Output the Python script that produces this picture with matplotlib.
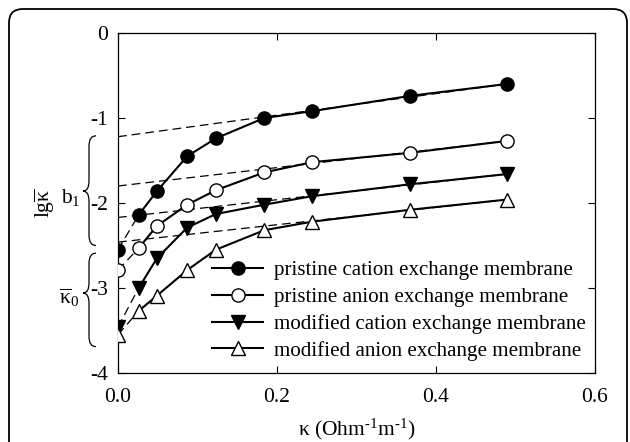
import matplotlib
matplotlib.use("Agg")
import matplotlib.pyplot as plt
from matplotlib.path import Path
from matplotlib.patches import PathPatch, FancyBboxPatch

plt.rcParams['font.family'] = ['Liberation Serif', 'DejaVu Serif']
plt.rcParams['mathtext.fontset'] = 'custom'
plt.rcParams['mathtext.rm'] = 'Liberation Serif'
plt.rcParams['mathtext.it'] = 'Liberation Serif:italic'
plt.rcParams['axes.unicode_minus'] = False

# conductivity of solution, Ohm^-1 m^-1
kappa = [0.0, 0.026, 0.049, 0.087, 0.123, 0.184, 0.244, 0.367, 0.489]

pcm = [-2.55, -2.14, -1.86, -1.45, -1.24, -1.00, -0.92, -0.74, -0.60]
pam = [-2.79, -2.53, -2.27, -2.02, -1.85, -1.64, -1.52, -1.41, -1.27]
mcm = [-3.46, -3.00, -2.65, -2.29, -2.13, -2.02, -1.92, -1.78, -1.66]
mam = [-3.55, -3.27, -3.09, -2.79, -2.55, -2.32, -2.22, -2.08, -1.96]

# intercepts of the linear extrapolation (dashed)
intercepts = [-1.22, -1.80, -2.17, -2.46]

labels = ["pristine cation exchange membrane",
          "pristine anion exchange membrane",
          "modified cation exchange membrane",
          "modified anion exchange membrane"]
series = [pcm, pam, mcm, mam]
markers = [("o", "black"), ("o", "white"), ("v", "black"), ("^", "white")]

FS = 15.5

fig = plt.figure(figsize=(6.3, 4.42), dpi=100)
ax = fig.add_axes([118/630, 1-373/442, 477/630, 340/442])

dash = (0, (7, 4))
for ys, b in zip(series, intercepts):
    # extrapolated straight line
    ax.plot([kappa[0], kappa[-1]], [b, ys[-1]], color="black", lw=0.9, ls=dash, zorder=2)
    # first segment dashed
    ax.plot(kappa[:2], ys[:2], color="black", lw=0.9, ls=dash, zorder=2)

for ys, (m, fc), lab in zip(series, markers, labels):
    ax.plot(kappa[1:], ys[1:], color="black", lw=1.5, zorder=3)
    ax.plot(kappa, ys, ls="none", marker=m, ms=9.5, mfc=fc, mec="black", mew=1.0, zorder=4)
    ax.plot([], [], color="black", lw=1.5, marker=m, ms=9.5, mfc=fc, mec="black", mew=1.0, label=lab)

ax.set_xlim(0, 0.6)
ax.set_ylim(-4, 0)
ax.set_xticks([0.0, 0.2, 0.4, 0.6])
ax.set_xticklabels(["0.0", "0.2", "0.4", "0.6"])
ax.set_yticks([0, -1, -2, -3, -4])
ax.set_yticklabels(["0", "-1", "-2", "-3", "-4"])
ax.tick_params(direction="in", top=True, right=True, length=5, width=0.8, labelsize=FS)
ax.tick_params(axis="x", pad=11)
ax.tick_params(axis="y", pad=7)
for s in ax.spines.values():
    s.set_linewidth(0.9)

ax.set_xlabel("κ (Ohm$^{\\mathregular{\u20101}}$m$^{\\mathregular{\u20101}}$)", fontsize=FS, labelpad=7)

ax.legend(loc="upper left", bbox_to_anchor=(0.198, 0.33), frameon=False, fontsize=15.1,
          handlelength=2.4, handletextpad=0.55, labelspacing=0.33, borderpad=0, borderaxespad=0)

# braces on the left of the y-axis
tr = ax.get_yaxis_transform()


def px2ax(px):
    return (px - 118) / 477


def brace(y_top, y_bot, y_tip):
    xe, xs, xt = px2ax(96), px2ax(89), px2ax(83)
    r = 0.12
    verts = [(xe, y_top), (xs, y_top), (xs, y_top - r),
             (xs, y_tip + r),
             (xs, y_tip), (xt, y_tip),
             (xs, y_tip), (xs, y_tip - r),
             (xs, y_bot + r),
             (xs, y_bot), (xe, y_bot)]
    codes = [Path.MOVETO, Path.CURVE3, Path.CURVE3,
             Path.LINETO,
             Path.CURVE3, Path.CURVE3,
             Path.CURVE3, Path.CURVE3,
             Path.LINETO,
             Path.CURVE3, Path.CURVE3]
    ax.add_patch(PathPatch(Path(verts, codes), transform=tr, fill=False,
                           lw=0.9, color="black", clip_on=False))


brace(-1.21, -2.50, -1.86)
brace(-2.59, -3.69, -3.06)

ax.text(px2ax(81), -1.93, r"b$_\mathregular{1}$", transform=tr, fontsize=FS,
        ha="right", va="center")
ax.text(px2ax(79), -3.12, r"$\overline{\mathregular{κ}}_\mathregular{0}$", transform=tr,
        fontsize=FS, ha="right", va="center")
ax.text(px2ax(45), -2.0, r"lg$\overline{\mathregular{κ}}$", transform=tr, fontsize=FS,
        ha="center", va="center", rotation=90)

# rounded outer frame
frame = FancyBboxPatch((9/630, -0.05), 618/630, 1.05 - 9/442,
                       boxstyle="round,pad=0,rounding_size=0.022",
                       transform=fig.transFigure, fill=False, lw=1.3, ec="black",
                       clip_on=False, mutation_aspect=630/442)
fig.patches.append(frame)

fig.savefig("out.png", dpi=100)
